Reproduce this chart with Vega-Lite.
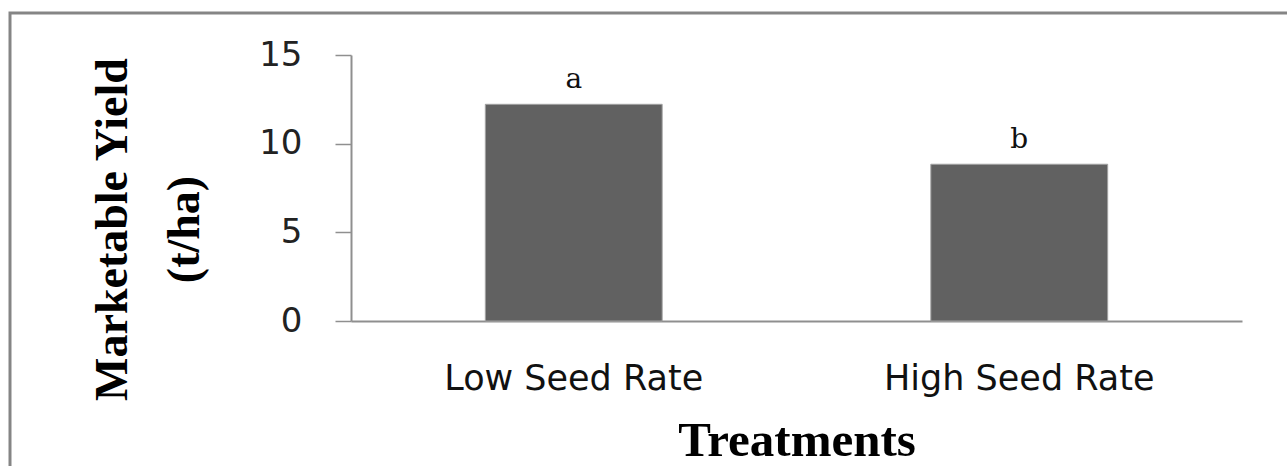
{
  "$schema": "https://vega.github.io/schema/vega-lite/v6.json",
  "autosize": "none",
  "padding": {"left": 10, "top": 13, "right": -5, "bottom": -5},
  "width": 1282,
  "height": 458,
  "background": "white",
  "config": {
    "view": {"stroke": "#858585", "strokeWidth": 3, "fill": "white"}
  },
  "data": {
    "values": [
      {"treatment": "Low Seed Rate", "yield": 12.22, "sig": "a"},
      {"treatment": "High Seed Rate", "yield": 8.84, "sig": "b"}
    ]
  },
  "encoding": {
    "x": {
      "field": "treatment",
      "type": "nominal",
      "sort": ["Low Seed Rate", "High Seed Rate"],
      "scale": {"range": [341, 1232], "paddingInner": 0.603, "paddingOuter": 0.3015},
      "axis": {
        "title": "Treatments",
        "titleFont": "Liberation Serif",
        "titleFontWeight": "bold",
        "titleFontSize": 49,
        "titleColor": "#000000",
        "titleBaseline": "alphabetic",
        "titleY": 134,
        "labelFont": "DejaVu Sans",
        "labelFontSize": 35,
        "labelColor": "#111111",
        "labelAngle": 0,
        "labelLimit": 0,
        "labelBaseline": "alphabetic",
        "labelPadding": 68,
        "ticks": false,
        "tickSize": 0,
        "domainColor": "#8f8f8f",
        "domainWidth": 2,
        "grid": false,
        "offset": -150
      }
    },
    "y": {
      "field": "yield",
      "type": "quantitative",
      "scale": {"domain": [0, 15], "range": [308, 42], "nice": false},
      "axis": {
        "values": [0, 5, 10, 15],
        "title": ["Marketable Yield", "(t/ha)"],
        "titleFont": "Liberation Serif",
        "titleFontWeight": "bold",
        "titleFontSize": 46,
        "titleLineHeight": 72,
        "titleColor": "#000000",
        "titleAngle": -90,
        "titleAlign": "center",
        "titleBaseline": "alphabetic",
        "titleX": -225,
        "titleY": 216,
        "labelFont": "DejaVu Sans",
        "labelFontSize": 34,
        "labelColor": "#222222",
        "labelPadding": 33,
        "tickSize": 16,
        "tickColor": "#8f8f8f",
        "tickWidth": 1.5,
        "domainColor": "#8f8f8f",
        "domainWidth": 2,
        "grid": false,
        "offset": -341
      }
    }
  },
  "layer": [
    {
      "mark": {"type": "bar", "color": "#616161", "stroke": "#a3a3a3", "strokeWidth": 1}
    },
    {
      "mark": {"type": "text", "font": "DejaVu Serif", "fontSize": 28, "baseline": "alphabetic", "dy": -16, "color": "#111111"},
      "encoding": {"text": {"field": "sig"}}
    }
  ]
}
